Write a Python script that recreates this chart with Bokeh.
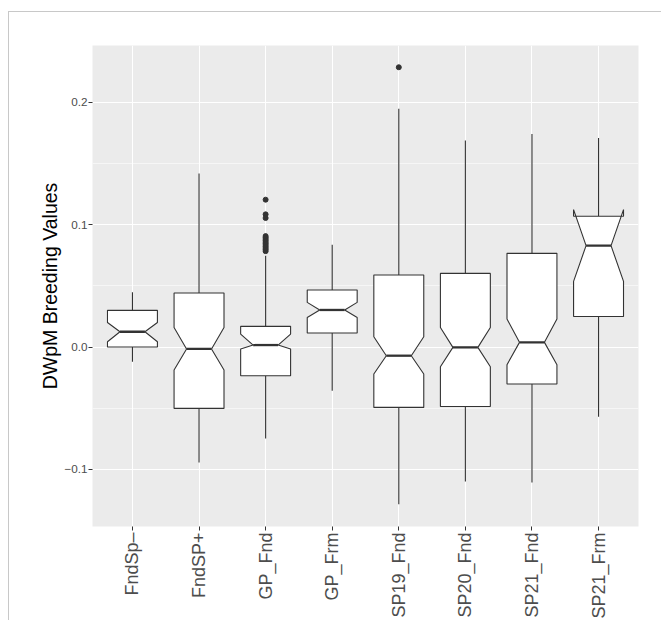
import math
from bokeh.plotting import figure
from bokeh.models import Range1d, FixedTicker, ColumnDataSource
from bokeh.embed import file_html
from bokeh.resources import INLINE

# ---- data ----
categories = ["FndSp–", "FndSP+", "GP_Fnd", "GP_Frm", "SP19_Fnd", "SP20_Fnd", "SP21_Fnd", "SP21_Frm"]
whisker_low = [-0.012, -0.0944, -0.0748, -0.0358, -0.1285, -0.110, -0.1108, -0.057]
q1 = [0.0, -0.0502, -0.0235, 0.0115, -0.0494, -0.0486, -0.0303, 0.025]
notch_low = [0.0043, -0.0188, -0.0016, 0.0242, -0.0221, -0.0161, -0.0145, 0.0537]
median = [0.0125, -0.0016, 0.0016, 0.0303, -0.0071, -0.0003, 0.0038, 0.0829]
notch_high = [0.0201, 0.016, 0.0106, 0.0365, 0.0084, 0.016, 0.0229, 0.1124]
q3 = [0.030, 0.0442, 0.0169, 0.0466, 0.0589, 0.0602, 0.0766, 0.1069]
whisker_high = [0.0447, 0.142, 0.0747, 0.0837, 0.1948, 0.1688, 0.1743, 0.171]

outlier_group = ["GP_Fnd"] * 14 + ["SP19_Fnd"]
outlier_value = [0.1205, 0.1085, 0.1055, 0.0907, 0.0895, 0.0883, 0.0871, 0.0858,
                 0.0846, 0.0834, 0.0821, 0.0809, 0.0797, 0.0784, 0.2288]

y_tick_values = [-0.1, 0.0, 0.1, 0.2]
y_tick_labels = ["\u22120.1", "0.0", "0.1", "0.2"]
y_minor_values = [-0.05, 0.05, 0.15]
y_title = "DWpM Breeding Values"

# ---- geometry helpers ----
pos = {c: i + 1 for i, c in enumerate(categories)}
xc = [pos[c] for c in categories]
hw = 0.375   # half box width
nhw = hw / 2  # half notch width

box_xs, box_ys = [], []
for i, c in enumerate(xc):
    box_xs.append([c - hw, c - hw, c - nhw, c - hw, c - hw, c + hw, c + hw, c + nhw, c + hw, c + hw])
    box_ys.append([q3[i], notch_high[i], median[i], notch_low[i], q1[i],
                   q1[i], notch_low[i], median[i], notch_high[i], q3[i]])

boxes = ColumnDataSource(dict(xs=box_xs, ys=box_ys))
stats = ColumnDataSource(dict(
    x=xc, xl=[c - nhw for c in xc], xr=[c + nhw for c in xc],
    lo=whisker_low, q1=q1, med=median, q3=q3, hi=whisker_high))
outs = ColumnDataSource(dict(x=[pos[g] for g in outlier_group], y=outlier_value))

FONT = "Liberation Sans"
INK = "#333333"

p = figure(frame_width=546, frame_height=481,
           min_border_left=92, min_border_top=45, min_border_right=23, min_border_bottom=0,
           x_range=Range1d(0.4, 8.6), y_range=Range1d(-0.1468, 0.2466),
           output_backend="svg", toolbar_location=None, tools="",
           background_fill_color="#EBEBEB", border_fill_color=None,
           outline_line_color=None,
           styles={"box-shadow": ("inset 0 11px 0 #FFFFFF, inset 8px 0 0 #FFFFFF, "
                                  "inset 9px 0 0 #C8C8C8, inset 0 12px 0 #C8C8C8")})

# whiskers
p.segment(x0="x", y0="q3", x1="x", y1="hi", source=stats, line_color=INK, line_width=1.1)
p.segment(x0="x", y0="q1", x1="x", y1="lo", source=stats, line_color=INK, line_width=1.1)
# notched boxes
p.patches(xs="xs", ys="ys", source=boxes, fill_color="white", line_color=INK, line_width=1.1)
# medians
p.segment(x0="xl", y0="med", x1="xr", y1="med", source=stats, line_color=INK, line_width=2.3)
# outliers
p.scatter(x="x", y="y", source=outs, size=5, color=INK)

# axes
p.xaxis.ticker = FixedTicker(ticks=xc)
p.xaxis.major_label_overrides = {pos[c]: c for c in categories}
p.xaxis.major_label_orientation = math.pi / 2
p.yaxis.ticker = FixedTicker(ticks=y_tick_values, minor_ticks=y_minor_values)
p.yaxis.major_label_overrides = dict(zip(y_tick_values, y_tick_labels))
p.yaxis.axis_label = y_title

for ax in (p.xaxis[0], p.yaxis[0]):
    ax.axis_line_color = None
    ax.major_tick_line_color = INK
    ax.major_tick_line_width = 1
    ax.major_tick_in = 0
    ax.major_tick_out = 4
    ax.minor_tick_line_color = None
    ax.major_label_text_font = FONT
    ax.major_label_text_color = "#4D4D4D"

p.xaxis.major_label_standoff = 2
p.yaxis.major_label_standoff = 1
p.xaxis.major_label_text_font_size = "18px"
p.yaxis.major_label_text_font_size = "11.7px"
p.yaxis.axis_label_text_font = FONT
p.yaxis.axis_label_text_font_size = "19.5px"
p.yaxis.axis_label_text_font_style = "normal"
p.yaxis.axis_label_text_color = "black"
p.yaxis.axis_label_standoff = 0

p.xgrid.grid_line_color = "white"
p.xgrid.grid_line_width = 1.1
p.ygrid.grid_line_color = "white"
p.ygrid.grid_line_width = 1.1
p.ygrid.minor_grid_line_color = "white"
p.ygrid.minor_grid_line_width = 0.55

open("out.html", "w").write(file_html(p, INLINE))
